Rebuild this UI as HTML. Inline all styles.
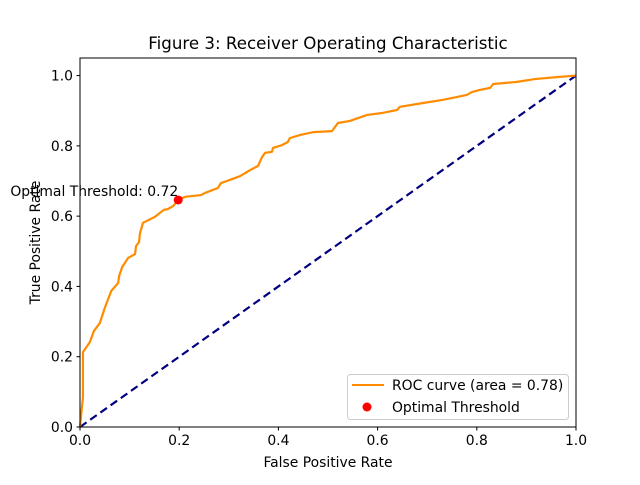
<!DOCTYPE html>
<html><head><meta charset="utf-8"><style>
body{margin:0;background:#fff}
svg text{font-family:"DejaVu Sans","Liberation Sans",sans-serif;fill:#000}
</style></head><body>
<svg width="640" height="480">
<rect width="640" height="480" fill="#fff"/>
<text x="328" y="49" font-size="16.67" text-anchor="middle">Figure 3: Receiver Operating Characteristic</text>
<g id="plot"></g>
<rect x="80" y="58" width="496" height="369" fill="none" stroke="#000" stroke-width="1"/>
<g id="ticks"></g>
<text x="328" y="467" font-size="13.9" text-anchor="middle">False Positive Rate</text>
<text transform="translate(40,242.5) rotate(-90)" font-size="13.9" text-anchor="middle">True Positive Rate</text>
<g>
<rect x="347.5" y="374.5" width="221" height="45" rx="3" fill="#fff" fill-opacity="0.8" stroke="#ccc"/>
<line x1="352" y1="385" x2="384" y2="385" stroke="#ff8c00" stroke-width="2"/>
<text x="392" y="390" font-size="13.9">ROC curve (area = 0.78)</text>
<circle cx="367" cy="407" r="4.5" fill="#ff0000"/>
<text x="392" y="412" font-size="13.9">Optimal Threshold</text>
</g>
</svg>
<script>
const fpr=[0,0.002,0.006,0.006,0.020,0.028,0.040,0.050,0.063,0.077,0.079,0.085,0.097,0.111,0.113,0.119,0.121,0.127,0.151,0.169,0.177,0.188,0.198,0.212,0.244,0.252,0.278,0.284,0.302,0.323,0.343,0.359,0.367,0.373,0.387,0.389,0.407,0.419,0.423,0.444,0.470,0.508,0.520,0.544,0.579,0.611,0.639,0.645,0.692,0.732,0.780,0.790,0.806,0.827,0.833,0.881,0.917,0.964,1];
const tpr=[0,0.03,0.085,0.213,0.242,0.273,0.296,0.339,0.387,0.410,0.430,0.455,0.481,0.492,0.515,0.526,0.552,0.581,0.598,0.618,0.620,0.629,0.646,0.655,0.660,0.666,0.680,0.694,0.703,0.714,0.731,0.743,0.768,0.780,0.783,0.794,0.802,0.811,0.822,0.831,0.839,0.842,0.865,0.871,0.888,0.894,0.902,0.911,0.922,0.931,0.945,0.953,0.959,0.965,0.976,0.982,0.990,0.996,1];
const optimal=[0.198,0.646];
const optimalLabel="Optimal Threshold: 0.72";
const xTicks=[0,0.2,0.4,0.6,0.8,1.0];
const yTicks=[0,0.2,0.4,0.6,0.8,1.0];
const X=v=>80+v*496, Y=v=>427-v*369/1.05;
const NS="http://www.w3.org/2000/svg";
function mk(t,a,p){const e=document.createElementNS(NS,t);for(const k in a)e.setAttribute(k,a[k]);p.appendChild(e);return e;}
const plot=document.getElementById('plot'), tk=document.getElementById('ticks');
const diag=mk('line',{x1:X(0),y1:Y(0),x2:X(1),y2:Y(1),stroke:'#000080','stroke-width':2.2,'stroke-dasharray':'8,4.5'},plot);


const roc=mk('polyline',{points:fpr.map((v,i)=>X(v)+','+Y(tpr[i])).join(' '),fill:'none',stroke:'#ff8c00','stroke-width':2.2,'stroke-linejoin':'round'},plot);


const dot=mk('circle',{cx:X(optimal[0]),cy:Y(optimal[1]),r:4.5,fill:'#ff0000'},plot);


const lab=mk('text',{x:X(optimal[0]),y:Y(optimal[1])-4,'font-size':13.9,'text-anchor':'end'},plot);
lab.textContent=optimalLabel;


xTicks.forEach(v=>{
 mk('line',{x1:X(v),y1:427,x2:X(v),y2:430.5,stroke:'#000'},tk);
 const t=mk('text',{x:X(v),y:445,'font-size':13.9,'text-anchor':'middle'},tk);
 t.textContent=v.toFixed(1);
 
 
});
yTicks.forEach(v=>{
 mk('line',{x1:76.5,y1:Y(v),x2:80,y2:Y(v),stroke:'#000'},tk);
 const t=mk('text',{x:73,y:Y(v)+5,'font-size':13.9,'text-anchor':'end'},tk);
 t.textContent=v.toFixed(1);
 
 
});
</script>
</body></html>
